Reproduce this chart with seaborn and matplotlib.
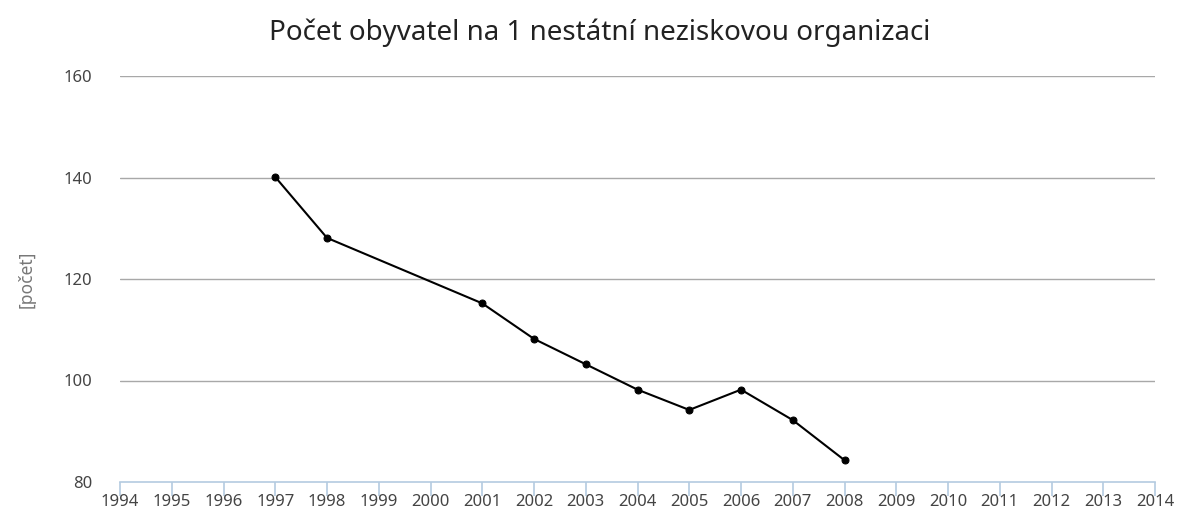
import matplotlib
matplotlib.use("Agg")
import matplotlib.pyplot as plt
import seaborn as sns
import pandas as pd

years = [1997, 1998, 2001, 2002, 2003, 2004, 2005, 2006, 2007, 2008]
values = [140.1, 128.1, 115.2, 108.2, 103.2, 98.2, 94.2, 98.2, 92.2, 84.3]
xticks = list(range(1994, 2015))
yticks = [80, 100, 120, 140, 160]
title = "Počet obyvatel na 1 nestátní neziskovou organizaci"
ylabel = "[počet]"

sns.set_theme(style="white")
plt.rcParams['font.family'] = ['Noto Sans', 'DejaVu Sans']

df = pd.DataFrame({"rok": years, "pocet": values})

fig = plt.figure(figsize=(11.79, 5.15), dpi=100)
ax = fig.add_axes([120/1179, 1-482/515, (1155-120)/1179, (482-76)/515])

sns.lineplot(data=df, x="rok", y="pocet", ax=ax, color="black", linewidth=1.5,
             marker="o", markersize=5, markeredgecolor="black")

ax.set_xlim(1994, 2014)
ax.set_ylim(80, 160)
ax.set_xticks(xticks)
ax.set_xticklabels([str(x) for x in xticks])
ax.set_yticks(yticks)
for y in yticks[1:]:
    ax.axhline(y, color="#a8a8a8", linewidth=1, zorder=0)

for s in ["top", "right", "left"]:
    ax.spines[s].set_visible(False)
ax.spines["bottom"].set_color("#b4cbe0")
ax.spines["bottom"].set_linewidth(1.2)
ax.tick_params(axis="x", which="both", bottom=True, length=10, width=1.2,
               color="#b4cbe0", labelcolor="#444444", labelsize=12, pad=-1)
ax.tick_params(axis="y", left=False, labelcolor="#444444", labelsize=12, pad=14)
ax.set_xlabel("")
ax.set_ylabel(ylabel, color="#777777", fontsize=12.5, labelpad=20)

fig.text(600/1179, 1-33/515, title, ha="center", va="center", fontsize=20, color="#222222")

fig.savefig("out.png", dpi=100)
